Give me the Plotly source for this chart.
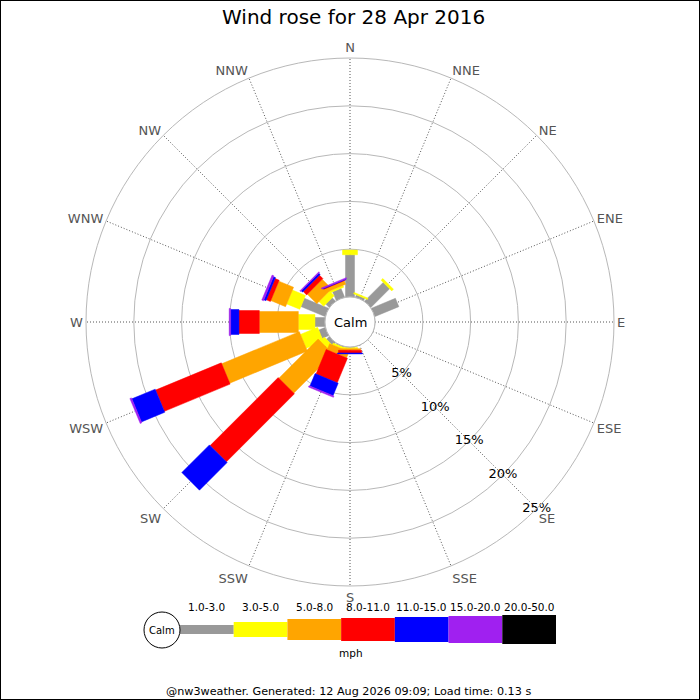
import math
import plotly.graph_objects as go

# ---------------- data ----------------
directions = ["N", "NNE", "NE", "ENE", "E", "ESE", "SE", "SSE",
              "S", "SSW", "SW", "WSW", "W", "WNW", "NW", "NNW"]
bearings = [i * 22.5 for i in range(16)]

band_labels = ["1.0-3.0", "3.0-5.0", "5.0-8.0", "8.0-11.0", "11.0-15.0", "15.0-20.0", "20.0-50.0"]
band_colors = ["#999999", "#ffff00", "#ffa500", "#ff0000", "#0000ff", "#a020f0", "#000000"]

# frequency (%) per direction for each speed band (mph)
pct_1_3   = [4.42, 0.26, 2.77, 2.72, 0, 0, 0, 0, 0.05, 0.10, 0.40, 0.73, 1.05, 2.75, 0.50, 1.00]
pct_3_5   = [0.49, 0.15, 0.26, 0.00, 0, 0, 0, 0, 0.12, 0.20, 0.60, 1.94, 1.74, 1.48, 0.70, 0.20]
pct_5_8   = [0.00, 0.00, 0.00, 0.00, 0, 0, 0, 0, 0.17, 0.69, 5.81, 8.79, 4.08, 1.67, 1.40, 0.40]
pct_8_11  = [0.00, 0.00, 0.00, 0.00, 0, 0, 0, 0, 0.28, 2.78, 10.06, 7.44, 2.13, 0.46, 0.50, 0.05]
pct_11_15 = [0.00, 0.00, 0.00, 0.00, 0, 0, 0, 0, 0.10, 1.41, 4.09, 2.64, 0.87, 0.23, 0.20, 0.05]
pct_15_20 = [0.00, 0.00, 0.00, 0.00, 0, 0, 0, 0, 0.00, 0.15, 0.00, 0.18, 0.15, 0.20, 0.10, 0.12]
pct_20_50 = [0.0] * 16
bands = [pct_1_3, pct_3_5, pct_5_8, pct_8_11, pct_11_15, pct_15_20, pct_20_50]

ring_vals = [5, 10, 15, 20, 25]
ring_text = ["5%", "10%", "15%", "20%", "25%"]

# ---------------- layout constants ----------------
W = H = 700
CX, CY = 350, 322          # centre of rose (px)
R_PX = 264                 # outer radius (px)
HOLE_PX = 25               # calm circle radius (px)
RMAX = 25
S = (R_PX - HOLE_PX) / RMAX   # px per percent
bar_w = [9, 15, 21, 23, 25, 27, 29]   # bar thickness (px) per band
FONT = "DejaVu Sans"


def to_r(rho):
    return (rho - HOLE_PX) / S


def seg_poly(theta, r0, r1, w):
    a = w / 2.0
    d1 = HOLE_PX + r1 * S
    if r0 <= 1e-9:
        phi = math.degrees(math.asin(a / HOLE_PX))
        inner = [(0.0, theta - phi), (0.0, theta + phi)]
    else:
        d0 = HOLE_PX + r0 * S
        rho = math.hypot(d0, a)
        phi = math.degrees(math.atan2(a, d0))
        inner = [(to_r(rho), theta - phi), (to_r(rho), theta + phi)]
    rho = math.hypot(d1, a)
    phi = math.degrees(math.atan2(a, d1))
    outer = [(to_r(rho), theta + phi), (to_r(rho), theta - phi)]
    return inner + outer


fig = go.Figure()

cum = [0.0] * 16
for b, vals in enumerate(bands):
    rr, tt = [], []
    for i, v in enumerate(vals):
        if v <= 0:
            continue
        pts = seg_poly(bearings[i], cum[i], cum[i] + v, bar_w[b])
        for r, t in pts:
            rr.append(r)
            tt.append(t)
        rr.append(pts[0][0]); tt.append(pts[0][1])
        rr.append(None); tt.append(None)
        cum[i] += v
    if rr:
        fig.add_trace(go.Scatterpolar(
            r=rr, theta=tt, mode="lines", fill="toself",
            fillcolor=band_colors[b],
            line=dict(color=band_colors[b], width=0.5),
            hoverinfo="skip", showlegend=False))

# radial percentage labels along SE
fig.add_trace(go.Scatterpolar(
    r=ring_vals, theta=[135] * len(ring_vals), mode="text", text=ring_text,
    textfont=dict(family=FONT, size=13, color="#000000"),
    hoverinfo="skip", showlegend=False))

dom_x = [(CX - R_PX) / W, (CX + R_PX) / W]
dom_y = [1 - (CY + R_PX) / H, 1 - (CY - R_PX) / H]

fig.update_layout(
    width=W, height=H,
    margin=dict(l=0, r=0, t=0, b=0),
    paper_bgcolor="white",
    font=dict(family=FONT),
    polar=dict(
        domain=dict(x=dom_x, y=dom_y),
        hole=HOLE_PX / R_PX,
        bgcolor="white",
        radialaxis=dict(range=[0, RMAX], tickvals=ring_vals, showticklabels=False,
                        ticks="", showline=False, gridcolor="#b8b8b8", gridwidth=1),
        angularaxis=dict(rotation=90, direction="clockwise",
                         tickmode="array", tickvals=bearings, ticktext=directions,
                         ticks="", ticklen=0, showline=True, linecolor="#b8b8b8", linewidth=1,
                         gridcolor="#555555", griddash="1px,2px", gridwidth=1,
                         tickfont=dict(family=FONT, size=13, color="#555555")),
    ),
)

shapes = []
# calm circle
shapes.append(dict(type="circle", xref="paper", yref="paper",
                   x0=(CX - HOLE_PX) / W, x1=(CX + HOLE_PX) / W,
                   y0=1 - (CY + HOLE_PX) / H, y1=1 - (CY - HOLE_PX) / H,
                   line=dict(color="#b8b8b8", width=1), fillcolor="white", layer="above"))

def note(x, y, text, size):
    return dict(x=x / W, y=1 - y / H, xref="paper", yref="paper", text=text,
                showarrow=False, xanchor="center", yanchor="middle",
                font=dict(family=FONT, size=size, color="#000000"))

# legend
LEG_X0, LEG_X1, LEG_Y = 180, 556, 629.5
leg_h = [9, 15, 21, 23, 25, 27, 29]
step = (LEG_X1 - LEG_X0) / len(band_labels)
annotations = []
for k, lab in enumerate(band_labels):
    x0 = LEG_X0 + k * step
    x1 = x0 + step
    shapes.append(dict(type="rect", xref="paper", yref="paper",
                       x0=x0 / W, x1=x1 / W,
                       y0=1 - (LEG_Y + leg_h[k] / 2) / H, y1=1 - (LEG_Y - leg_h[k] / 2) / H,
                       line=dict(width=0), fillcolor=band_colors[k]))
    annotations.append(note((x0 + x1) / 2, 607, lab, 10.5))
shapes.append(dict(type="circle", xref="paper", yref="paper",
                   x0=(162 - 18) / W, x1=(162 + 18) / W,
                   y0=1 - (630 + 18) / H, y1=1 - (630 - 18) / H,
                   line=dict(color="#000000", width=1), fillcolor="white"))
annotations.append(note(162, 630, "Calm", 10))
annotations.append(note(351, 653, "mph", 10.5))
annotations.append(note(CX, CY, "Calm", 13))
annotations.append(note(353, 17, "Wind rose for 28 Apr 2016", 20))
annotations.append(note(348, 691, "@nw3weather. Generated: 12 Aug 2026 09:09; Load time: 0.13 s", 11.2))
# frame
shapes.append(dict(type="rect", xref="paper", yref="paper", x0=0, x1=1, y0=0, y1=1,
                   line=dict(color="#000000", width=2), layer="above"))

fig.update_layout(shapes=shapes, annotations=annotations)
fig.write_html("out.html", config={"displayModeBar": False},
               post_script="document.body.style.margin='0';document.body.style.overflow='hidden';")
